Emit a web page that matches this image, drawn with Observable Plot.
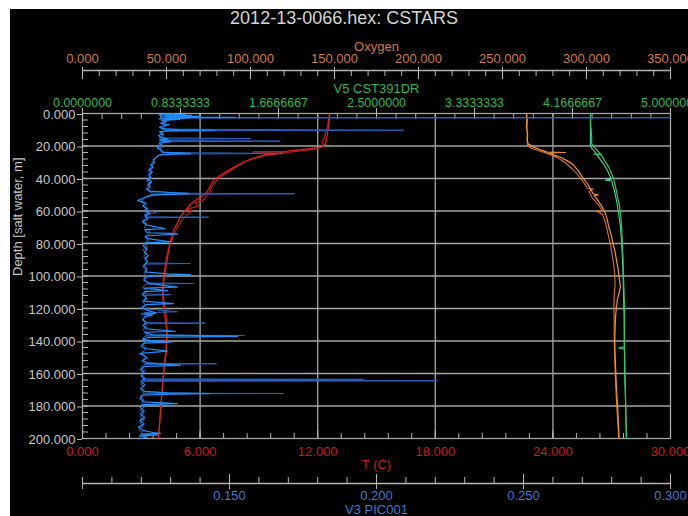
<!DOCTYPE html>
<html><head><meta charset="utf-8">
<script src="https://cdn.jsdelivr.net/npm/d3@7"></script>
<script src="https://cdn.jsdelivr.net/npm/@observablehq/plot@0.6"></script>
<style>
html,body{margin:0;padding:0;background:#fff;overflow:hidden;}
#wrap{position:relative;width:688px;height:516px;overflow:hidden;}
#bg{position:absolute;left:10px;top:9px;right:0;bottom:0;background:#000;}
#title{position:absolute;left:0;top:8px;width:688px;text-align:center;color:#d4d4d4;font:18px "Liberation Sans",Arial,sans-serif;line-height:20px;}
#wrap svg{position:absolute;left:0;top:0;}
</style></head><body><div id="wrap"><div id="bg"></div><div id="title">2012-13-0066.hex: CSTARS</div></div>
<script>
// ---- tick values ----
const depthTicks = [0, 20, 40, 60, 80, 100, 120, 140, 160, 180, 200];
const tempTicks = [0, 6, 12, 18, 24, 30];
const oxyTicks = [0, 50, 100, 150, 200, 250, 300, 350];
const v5Ticks = [0, 5/6, 10/6, 15/6, 20/6, 25/6, 5];
const v3Ticks = [0.15, 0.2, 0.25, 0.3];

// ---- series: [depth (m), value] ----
const tempDown = [[0,12.6],[3,12.6],[8,12.55],[12,12.5],[16,12.45],[19,12.4],[20.5,12.2],[21.5,11.8],[22.5,10.95],[23.4,10.3],[23.6,8.7],[23.8,10.2],[24.6,10.1],[25.5,9.4],[27.7,8.7],[29.5,8.3],[31.8,7.9],[35,7.45],[38,7.05],[40,6.8],[44,6.55],[48.2,6.37],[51,6.1],[53.5,5.75],[56,5.5],[59.7,5.25],[62.5,5.05],[65.8,4.9],[69,4.78],[72,4.65],[78,4.5],[83,4.4],[88.4,4.35],[96.6,4.23],[103,4.15],[109,4.1],[115,4.15],[121,4.23],[127,4.28],[133.5,4.32],[140,4.3],[145.8,4.25],[152,4.2],[158,4.15],[164,4.1],[170.5,4.06],[176,4.02],[182.8,3.98],[190,3.94],[197,3.89],[200,3.87]];
const tempUp = [[200,3.85],[190,3.95],[180,4.0],[170,4.07],[160,4.15],[150,4.25],[145,4.3],[135,4.3],[125,4.2],[115,4.1],[108,4.08],[100,4.15],[92,4.22],[85,4.35],[78,4.55],[72,4.75],[66,5.05],[62,5.35],[60,5.6],[59,5.3],[57,5.9],[55,5.75],[53,6.2],[51,6.3],[49,6.5],[46,6.55],[43,6.75],[40,6.95],[37,7.3],[34,7.7],[31,8.1],[28,8.6],[26,9.1],[25,9.6],[24,10.4],[23.2,11.0],[22.3,11.6],[21.5,12.0],[20.5,12.25],[19,12.3],[17,12.2],[15,12.35],[12,12.4],[8,12.5],[4,12.55],[0.5,12.6]];

const oxyDown = [[0,264.3],[4,264.5],[8,264.3],[12,264.8],[16,264.6],[18.7,265.2],[20.7,268.6],[22.5,273],[23.8,276.6],[24,287.5],[24.3,277.5],[26.9,284.5],[29,288.3],[31,291.5],[35,295],[39,297.4],[44,301],[49.4,304],[50,307],[50.5,304.5],[53,306.5],[57,309],[61,311],[65,312.3],[70,313.3],[75,314.8],[80,315.8],[85,317],[90.5,317.9],[95,318.7],[99.7,319.3],[106.9,320.2],[110,319.5],[115,318.3],[120,317.7],[125,317.3],[135.6,316.9],[145,316.9],[156,317.3],[166,317.7],[176.6,318.3],[186,318.8],[197,319.3],[200,319.5]];
const oxyUp = [[200,319.2],[190,318.6],[180,318],[170,317.5],[160,317.1],[150,316.8],[140,316.5],[130,316.5],[120,316.3],[112,316.5],[105,317],[98,316.8],[90,315.8],[82,314.5],[75,313],[68,311.5],[62,309.5],[60,306],[59.5,309.2],[56,307],[52,303.5],[48,301.5],[46.5,304],[46,300.5],[42,298],[38,295],[34,291.5],[30,287],[27,282.5],[25,278],[23.5,273.5],[22,269],[21,266.5],[20,265],[17,264.8],[13,265],[9,264.5],[5,264.8],[1,264.5]];

const v5Down = [[0,4.32],[5,4.32],[10,4.325],[15,4.33],[18.7,4.33],[21.4,4.36],[24.8,4.405],[25,4.35],[25.3,4.41],[29,4.44],[33,4.475],[37,4.5],[41.2,4.52],[46,4.535],[51.5,4.55],[56,4.565],[61.7,4.575],[70,4.585],[80,4.59],[90,4.597],[100,4.6],[110,4.605],[119,4.61],[130,4.61],[143.5,4.608],[144.3,4.558],[144.8,4.61],[160,4.612],[175,4.618],[190,4.622],[197,4.626],[200,4.626]];
const v5Up = [[200,4.624],[185,4.62],[170,4.615],[155,4.61],[140,4.607],[125,4.605],[110,4.6],[95,4.595],[80,4.585],[70,4.575],[62,4.56],[55,4.545],[48,4.525],[41.5,4.5],[41,4.447],[40.5,4.495],[36,4.47],[32,4.44],[29,4.41],[26.5,4.385],[24,4.36],[22,4.335],[20,4.32],[17,4.318],[12,4.32],[7,4.318],[3,4.32],[2.5,4.32],[2.5,2.87]];

const picBright = [[0.3,0.128],[0.6,0.135],[0.9,0.126],[1.2,0.137],[1.5,0.129],[1.8,0.14],[2.1,0.127],[2.4,0.152],[2.6,0.128],[2.9,0.136],[3.3,0.126],[3.7,0.133],[4.2,0.127],[5,0.1285],[6,0.1265],[6.8,0.1295],[7.5,0.1275],[8.5,0.1262],[9.5,0.128],[10.1,0.133],[10.4,0.145],[10.7,0.13],[11.2,0.1262],[12.5,0.1275],[13.6,0.1258],[14.8,0.1268],[15.6,0.129],[16.4,0.1262],[17.3,0.13],[18.2,0.1262],[19.5,0.127],[21,0.1255],[22.5,0.1268],[23.8,0.1275],[24.4,0.134],[24.7,0.1367],[25,0.13],[25.6,0.1262],[27,0.125],[28.5,0.124],[30,0.1245],[31.5,0.1232],[33,0.124],[34.5,0.1226],[36,0.1238],[37.5,0.1224],[39,0.1232],[40.5,0.122],[42,0.1236],[43.5,0.1222],[45,0.123],[46.5,0.1218],[47.8,0.123],[48.6,0.13],[49.1,0.136],[49.6,0.133],[50.2,0.124],[51.5,0.1214],[53.5,0.1187],[55,0.1212],[57,0.1206],[58.5,0.122],[60,0.1208],[61.5,0.123],[63,0.1212],[65,0.1222],[66.5,0.1204],[68.5,0.1216],[70.8,0.128],[71.5,0.1212],[73.4,0.122],[73.8,0.13],[74.2,0.1323],[74.6,0.128],[75.4,0.1214],[77,0.1222],[79,0.1299],[79.6,0.1214],[81.5,0.1207],[83.5,0.122],[85.5,0.121],[87.5,0.1224],[89.5,0.1212],[91.5,0.122],[93.5,0.1208],[95.5,0.1218],[97.5,0.1212],[98.7,0.129],[99.2,0.1367],[99.7,0.128],[100.5,0.1214],[102.5,0.1208],[104.5,0.1226],[106.8,0.1323],[107.5,0.121],[109,0.1289],[109.6,0.1212],[111.5,0.1204],[113.5,0.1218],[115.5,0.1206],[117,0.131],[117.6,0.1214],[119.5,0.1202],[121.2,0.1222],[122.6,0.125],[123,0.1248],[123.4,0.12],[124,0.124],[125.2,0.1212],[127,0.1204],[128.5,0.1216],[130.5,0.1206],[132.5,0.1218],[134,0.1316],[134.6,0.121],[136.2,0.124],[137.2,0.1527],[137.8,0.122],[139.2,0.1204],[140.7,0.1299],[141.3,0.121],[143,0.12],[144.6,0.1212],[145.6,0.126],[146.2,0.1289],[146.8,0.125],[147.6,0.1195],[149,0.121],[150.5,0.122],[152,0.1205],[153.5,0.122],[155,0.1333],[155.6,0.121],[157.5,0.1197],[159.5,0.121],[161.5,0.12],[163,0.1212],[165,0.12],[167,0.1212],[169,0.1198],[171,0.121],[171.9,0.129],[172.3,0.1435],[172.7,0.13],[173.4,0.1205],[175.5,0.1196],[177.5,0.121],[178.5,0.1323],[179.2,0.1205],[181,0.1197],[183,0.121],[185,0.1197],[187,0.1212],[189,0.1195],[191,0.121],[193,0.119],[195,0.1204],[196.3,0.124],[196.8,0.1265],[197.3,0.12],[197.8,0.1255],[198.4,0.1195],[199.2,0.122],[200,0.12]];
const picDark = [[0,0.131],[1.5,0.128],[2.5,0.13],[2.6,0.3],[2.8,0.131],[4.5,0.1285],[6.5,0.127],[8,0.128],[9.6,0.1268],[10.3,0.2092],[10.6,0.128],[12,0.1265],[13.5,0.1278],[15,0.126],[15.4,0.1571],[15.8,0.1262],[16.6,0.1272],[17,0.1673],[17.4,0.1265],[19,0.1258],[20.5,0.1272],[22,0.1262],[24,0.127],[24.6,0.1684],[25,0.1268],[26.5,0.1254],[28,0.1246],[29.5,0.1238],[31,0.1244],[32.5,0.123],[34,0.1238],[35.5,0.1224],[37,0.1236],[38.5,0.1226],[40,0.1234],[41.5,0.1218],[43,0.1234],[44.5,0.122],[46,0.1228],[47.5,0.1222],[49,0.124],[49.4,0.1721],[49.8,0.1235],[51,0.122],[52.5,0.121],[54,0.12],[55.5,0.1218],[57.5,0.121],[59.5,0.1226],[61,0.125],[62,0.121],[63.6,0.122],[63.8,0.1429],[64.2,0.1215],[66,0.1205],[68,0.122],[70,0.121],[72,0.1225],[74,0.123],[76,0.1212],[78,0.1225],[80,0.121],[82,0.1222],[84,0.1205],[86,0.1218],[88,0.1208],[90,0.1222],[92,0.1215],[92.3,0.1367],[92.7,0.1212],[94.5,0.1205],[96.5,0.1218],[98.5,0.121],[100.5,0.122],[102.5,0.121],[104.3,0.122],[104.6,0.1378],[105,0.1215],[107,0.1205],[109,0.122],[111,0.121],[111.5,0.13],[112,0.1208],[114,0.122],[116,0.1204],[118,0.1216],[120,0.1206],[122,0.1323],[122.5,0.121],[124.5,0.122],[126.5,0.1206],[128.7,0.1215],[129,0.1418],[129.4,0.121],[131,0.122],[133,0.1205],[135,0.1218],[136.4,0.1215],[136.6,0.1551],[136.9,0.1212],[138.5,0.1205],[140,0.1218],[142,0.1204],[144,0.1216],[146,0.121],[148,0.12],[150,0.1214],[152,0.1202],[153.7,0.121],[154,0.1456],[154.4,0.1212],[156,0.12],[158,0.1212],[160,0.1198],[162,0.121],[163.3,0.1205],[163.6,0.1956],[163.9,0.121],[164.2,0.1205],[164.5,0.2207],[164.8,0.1208],[166.5,0.1198],[168.5,0.121],[170.5,0.12],[172.1,0.121],[172.3,0.1684],[172.6,0.1205],[174.5,0.1196],[176.5,0.121],[178.5,0.12],[180.5,0.1212],[182.5,0.1196],[184.5,0.1208],[186.5,0.1195],[188.5,0.121],[190.5,0.1196],[192.5,0.1206],[194.5,0.1192],[196.5,0.1204],[198.5,0.1194],[200,0.12]];

// ---- styling ----
const FONT = '"Liberation Sans", Arial, sans-serif';
const GRID = "#a4a4a4", TICK = "#b4b4b4", LABEL = "#c6c6c6";
const RED_L = "#cc1c1c", ORANGE_L = "#d27a3e", GREEN_L = "#2fb850", BLUE_L = "#3a7cd6";
const f3 = d => d.toFixed(3), f7 = d => d.toFixed(7);
const X = d => d[1], Y = d => d[0];

const base = {
  width: 688, height: 516,
  marginLeft: 82, marginRight: 18, marginTop: 113, marginBottom: 78,
  style: {background: "none", fontFamily: FONT, fontSize: "13px"}
};
const yBase = {domain: [0, 200], reverse: true};

const layerT = Plot.plot({
  ...base,
  x: {domain: [0, 30]},
  y: yBase,
  marks: [
    Plot.ruleY(depthTicks.slice(1, -1), {stroke: GRID, strokeWidth: 1.3}),
    Plot.ruleX([6, 12, 18, 24], {stroke: GRID, strokeWidth: 1.3}),
    Plot.frame({stroke: GRID, strokeWidth: 1.3}),
    Plot.axisY({ticks: d3.range(0, 201, 4), tickSize: -6, fill: "none", stroke: TICK, label: null}),
    Plot.axisY({ticks: depthTicks, tickSize: 5, tickPadding: 2, tickFormat: f3, fill: LABEL, stroke: TICK, label: null, dy: 1}),
    Plot.axisX({anchor: "top", ticks: d3.range(0, 30.01, 1), tickSize: -5, fill: "none", stroke: TICK, label: null}),
    Plot.axisX({anchor: "bottom", ticks: d3.range(0, 30.01, 1.2), tickSize: -5, fill: "none", stroke: TICK, label: null}),
    Plot.axisX({anchor: "bottom", ticks: tempTicks, tickSize: -8, fill: "none", stroke: TICK, label: null}),
    Plot.axisX({anchor: "bottom", ticks: tempTicks, tickSize: 0, tickPadding: 8.5, tickFormat: f3, fill: RED_L, label: null}),
    Plot.text(["T (C)"], {text: d => d, frameAnchor: "bottom", dy: 30, fill: RED_L, fontSize: 13}),
    Plot.text(["Depth [salt water, m]"], {text: d => d, frameAnchor: "left", dx: -65, rotate: -90, fill: LABEL, fontSize: 13}),
    Plot.line(tempUp, {x: X, y: Y, stroke: "#c41a1a", strokeWidth: 1.1}),
    Plot.line(tempDown, {x: X, y: Y, stroke: "#e62222", strokeWidth: 1.2})
  ]
});

const layerO = Plot.plot({
  ...base,
  x: {domain: [0, 350]},
  y: {...yBase, axis: null},
  marks: [
    Plot.ruleY([0], {dy: -43, stroke: TICK, strokeWidth: 1.3}),
    Plot.axisX({anchor: "top", ticks: d3.range(0, 351, 10), tickSize: -5, dy: -43, fill: "none", stroke: TICK, label: null}),
    Plot.axisX({anchor: "top", ticks: oxyTicks, tickSize: -8, dy: -43, fill: "none", stroke: TICK, label: null}),
    Plot.axisX({anchor: "top", ticks: oxyTicks, tickSize: 4, dy: -43, fill: "none", stroke: TICK, label: null}),
    Plot.axisX({anchor: "top", ticks: oxyTicks, tickSize: 0, tickPadding: 8, dy: -43, tickFormat: f3, fill: ORANGE_L, label: null}),
    Plot.text(["Oxygen"], {text: d => d, frameAnchor: "top", dy: -72, fill: ORANGE_L, fontSize: 13}),
    Plot.line(oxyUp, {x: X, y: Y, stroke: "#d9781f", strokeWidth: 1.1}),
    Plot.line(oxyDown, {x: X, y: Y, stroke: "#f4922c", strokeWidth: 1.2})
  ]
});

const layerV5 = Plot.plot({
  ...base,
  x: {domain: [0, 5]},
  y: {...yBase, axis: null},
  marks: [
    Plot.axisX({anchor: "top", ticks: v5Ticks, tickSize: 6, fill: "none", stroke: TICK, label: null}),
    Plot.axisX({anchor: "top", ticks: v5Ticks, tickSize: 0, tickPadding: 7, tickFormat: f7, fill: GREEN_L, label: null, fontSize: 12.5}),
    Plot.text(["V5 CST391DR"], {text: d => d, frameAnchor: "top", dy: -29.5, fill: GREEN_L, fontSize: 13}),
    Plot.line(v5Up, {x: X, y: Y, stroke: "#3fdc9c", strokeWidth: 1.1}),
    Plot.line(v5Down, {x: X, y: Y, stroke: "#2ec764", strokeWidth: 1.2})
  ]
});

const layerV3 = Plot.plot({
  ...base,
  x: {domain: [0.1, 0.3]},
  y: {...yBase, axis: null},
  marks: [
    Plot.ruleY([200], {dy: 45, stroke: TICK, strokeWidth: 1.3}),
    Plot.axisX({anchor: "bottom", ticks: d3.range(0.1, 0.3001, 0.01), tickSize: -6, dy: 45, fill: "none", stroke: TICK, label: null}),
    Plot.axisX({anchor: "bottom", ticks: v3Ticks, tickSize: -9, dy: 45, fill: "none", stroke: TICK, label: null}),
    Plot.axisX({anchor: "bottom", ticks: [0.1, ...v3Ticks], tickSize: 6, dy: 45, fill: "none", stroke: TICK, label: null}),
    Plot.axisX({anchor: "bottom", ticks: v3Ticks, tickSize: 0, tickPadding: 7.5, dy: 45, tickFormat: f3, fill: BLUE_L, label: null}),
    Plot.text(["V3 PIC001"], {text: d => d, frameAnchor: "bottom", dy: 75.5, fill: BLUE_L, fontSize: 13}),
    Plot.line(picDark, {x: X, y: Y, stroke: "#2a62c4", strokeWidth: 1}),
    Plot.line(picBright, {x: X, y: Y, stroke: "#1f8fff", strokeWidth: 1.2})
  ]
});

const wrap = document.getElementById("wrap");
[layerT, layerO, layerV5, layerV3].forEach(svg => wrap.appendChild(svg));
</script></body></html>
